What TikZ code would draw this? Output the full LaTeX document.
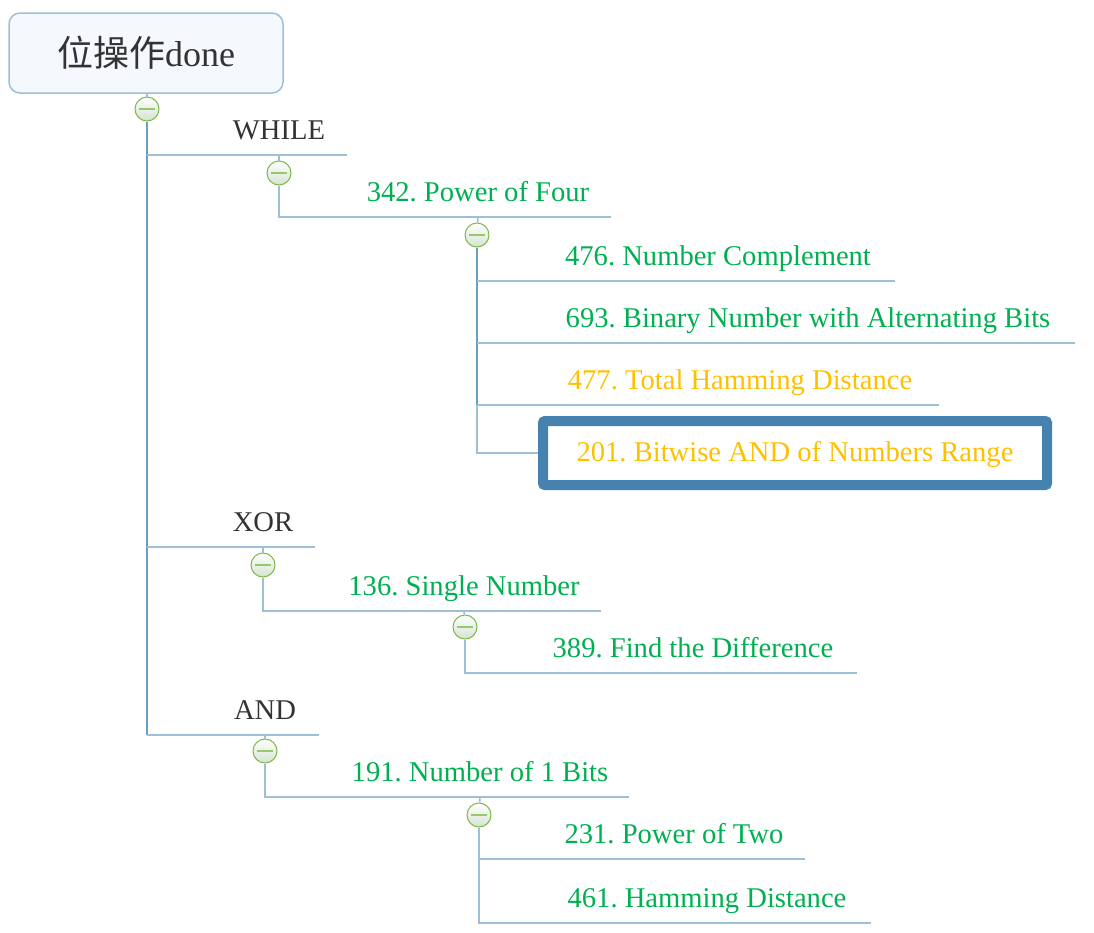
\documentclass[tikz,border=0pt]{standalone}
\usepackage{fontspec}
\setmainfont{Liberation Serif}
\newfontfamily\cjk{Noto Sans CJK SC}
\frenchspacing
\definecolor{branch}{HTML}{9DC0D6}
\definecolor{trunk}{HTML}{6A9FC0}
\definecolor{focus}{HTML}{4682B0}
\definecolor{solved}{HTML}{00B050}
\definecolor{todo}{HTML}{FFC000}
\definecolor{ink}{HTML}{333333}
\definecolor{rootfill}{HTML}{F5F9FD}
\definecolor{ring}{HTML}{7DB84A}
\definecolor{minus}{HTML}{96C86E}
\definecolor{togglebot}{HTML}{D5E3D0}
\tikzset{
    label font/.style={font=\fontsize{28.6}{28.6}\selectfont, text height=20pt, text depth=3pt},
    topic/.style={label font, minimum width=#1, minimum height=48pt, inner sep=0pt, anchor=south, text=ink},
    green topic/.style={topic=#1, text=solved},
    orange topic/.style={topic=#1, text=todo},
    toggle/.style={circle, draw=ring, line width=1pt, minimum size=24pt, inner sep=0pt,
      top color=white, bottom color=togglebot,
      path picture={\draw[line width=2pt, minus]
        ([xshift=-8pt]path picture bounding box.center) -- ([xshift=8pt]path picture bounding box.center);}},
    stem/.style={branch, line width=1.5pt},
    spine/.style={trunk, line width=2pt},
}
\begin{document}
\begin{tikzpicture}[x=1pt,y=-1pt]
  \useasboundingbox (0,0) rectangle (1094,932);

  % root
  \node[draw=branch, line width=1.5pt, rounded corners=11pt, fill=rootfill, text=ink, minimum width=274pt, minimum height=80pt,
    font=\fontsize{36}{36}\selectfont] (root) at (146,53) {{\cjk 位操作}done};

  % first level
  \node[topic=136pt] (while) at (279,155) {WHILE};
  \node[topic=104pt] (xor) at (263,547) {XOR};
  \node[topic=108pt] (and) at (265,735) {AND};

  % second level
  \node[green topic=266pt] (power4) at (478,217) {342. Power of Four};
  \node[green topic=274pt] (single) at (464,611) {136. Single Number};
  \node[green topic=298pt] (bits) at (480,797) {191. Number of 1 Bits};

  % third level
  \node[green topic=354pt] (compl) at (718,281) {476. Number Complement};
  \node[green topic=534pt] (alter) at (808,343) {693. Binary Number with Alternating Bits};
  \node[orange topic=398pt] (total) at (740,405) {477. Total Hamming Distance};
  \node[label font, draw=focus, line width=10pt, rounded corners=2pt, text=todo, minimum width=504pt, minimum height=64pt, inner sep=0pt]
    (range) at (795,453) {201. Bitwise AND of Numbers Range};
  \node[green topic=328pt] (diff) at (693,673) {389. Find the Difference};
  \node[green topic=262pt] (two) at (674,859) {231. Power of Two};
  \node[green topic=328pt] (hamm) at (707,923) {461. Hamming Distance};

  % underlines
  \foreach \n in {while,xor,and,power4,single,bits,compl,alter,total,diff,two,hamm}
    \draw[stem] (\n.south west) -- (\n.south east);

  % toggles
  \node[toggle] (t0) at (147,109) {};
  \node[toggle] (t1) at (279,173) {};
  \node[toggle] (t2) at (477,235) {};
  \node[toggle] (t3) at (263,565) {};
  \node[toggle] (t4) at (465,627) {};
  \node[toggle] (t5) at (265,751) {};
  \node[toggle] (t6) at (479,815) {};

  % connectors
  \draw[stem] (t0 |- root.south) -- (t0);
  \draw[spine] (t0) -- (t0 |- and.south);
  \foreach \n in {while,xor,and}
    \draw[stem] (t0 |- \n.south) -- (\n.south west);

  \draw[stem] (while.south) -- (t1);
  \draw[stem] (t1) |- (power4.south west);
  \draw[stem] (power4.south) -- (t2);
  \draw[spine] (t2) -- (t2 |- total.south);
  \draw[stem] (t2 |- total.south) |- (range.west);
  \foreach \n in {compl,alter,total}
    \draw[stem] (t2 |- \n.south) -- (\n.south west);

  \draw[stem] (xor.south) -- (t3);
  \draw[stem] (t3) |- (single.south west);
  \draw[stem] (single.south) -- (t4);
  \draw[stem] (t4) |- (diff.south west);

  \draw[stem] (and.south) -- (t5);
  \draw[stem] (t5) |- (bits.south west);
  \draw[stem] (bits.south) -- (t6);
  \draw[stem] (t6) |- (hamm.south west);
  \draw[stem] (t6 |- two.south) -- (two.south west);
\end{tikzpicture}
\end{document}
